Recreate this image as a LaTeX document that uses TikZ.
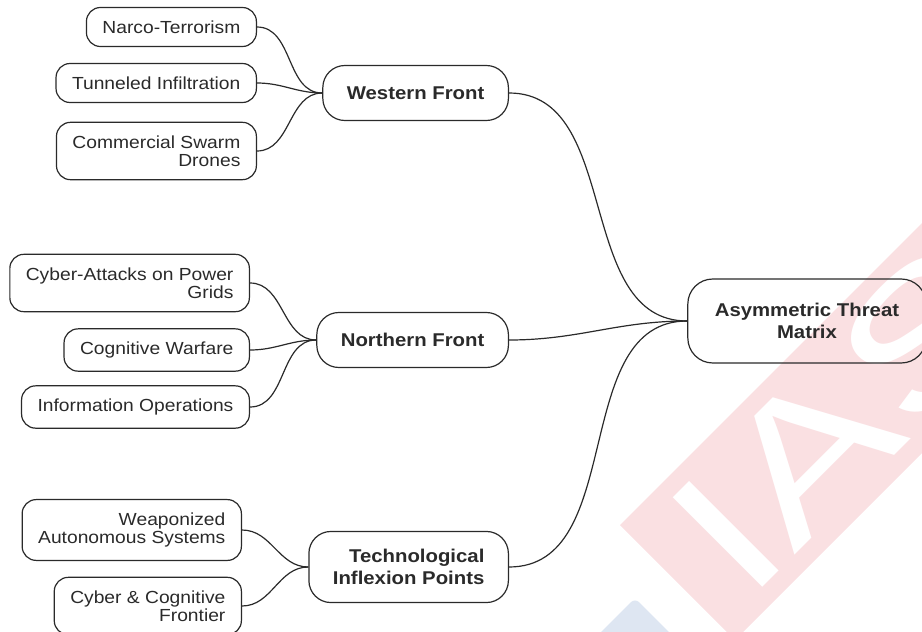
\documentclass[tikz,border=0pt]{standalone}
\usepackage{fontspec}
\setmainfont{Liberation Sans}[FakeStretch=1.1]
\newfontfamily\wmfont{Liberation Sans}[FakeStretch=1.35]
\usepackage{xcolor}
\usepackage{tikz}
\usetikzlibrary{positioning}
\definecolor{ink}{HTML}{2A2A2A}
\definecolor{wmpink}{RGB}{250,224,226}
\definecolor{wmblue}{RGB}{222,230,242}

\begin{document}
\begin{tikzpicture}[x=1pt, y=-1pt, color=ink, leaf/.style={draw, rounded corners=14pt, align=right, inner xsep=16pt, inner ysep=13pt, minimum height=39pt, line width=1.2pt, font=\fontsize{17.5}{18.5}\selectfont, anchor=east}, branch/.style={leaf, rounded corners=22pt, inner xsep=24pt, inner ysep=18pt, minimum height=55pt, font=\bfseries\fontsize{18.5}{21.5}\selectfont}, hub/.style={branch, rounded corners=25pt, align=center, anchor=center, inner xsep=27pt, minimum height=84pt}, link/.style={line width=1.2pt}]
\useasboundingbox (0,0) rectangle (922,632);
% watermark
\begin{scope}
\clip (0,0) rectangle (922,632);
\fill[wmpink] (620,525) -- (735,640) -- (1135,240) -- (1020,125) -- cycle;
\fill[wmblue, rounded corners=6pt] (635,598) -- (735,698) -- (635,798) -- (535,698) -- cycle;
\node[rotate=45, anchor=base west, inner sep=0pt, text=white, font=\wmfont\fontsize{184}{184}\selectfont] (wm) at (746,604) {IAS};
\end{scope}
% root and fronts
\node[hub] (atm) at (807,321) {Asymmetric Threat\\Matrix};
\node[branch] (west) at (509,93) {Western Front};
\node[branch] (north) at (509,340) {Northern Front};
\node[branch] (tech) at (509,567) {Technological\\Inflexion Points};
% threats
\node[leaf] (narco) at (257,27) {Narco-Terrorism};
\node[leaf] (tunnel) at (257,83) {Tunneled Infiltration};
\node[leaf] (swarm) at (257,151) {Commercial Swarm\\Drones};
\node[leaf] (grid) at (250,283) {Cyber-Attacks on Power\\Grids};
\node[leaf] (cogwar) at (250,350) {Cognitive Warfare};
\node[leaf] (infoops) at (250,407) {Information Operations};
\node[leaf] (weapon) at (242,530) {Weaponized\\Autonomous Systems};
\node[leaf] (frontier) at (242,606) {Cyber \& Cognitive\\Frontier};
% links
\foreach \b in {west,north,tech}
  \draw[link] (\b.east) to[out=0,in=180] (atm.west);
\foreach \l in {narco,tunnel,swarm}
  \draw[link] (\l.east) to[out=0,in=180] (west.west);
\foreach \l in {grid,cogwar,infoops}
  \draw[link] (\l.east) to[out=0,in=180] (north.west);
\foreach \l in {weapon,frontier}
  \draw[link] (\l.east) to[out=0,in=180] (tech.west);
\end{tikzpicture}
\end{document}
